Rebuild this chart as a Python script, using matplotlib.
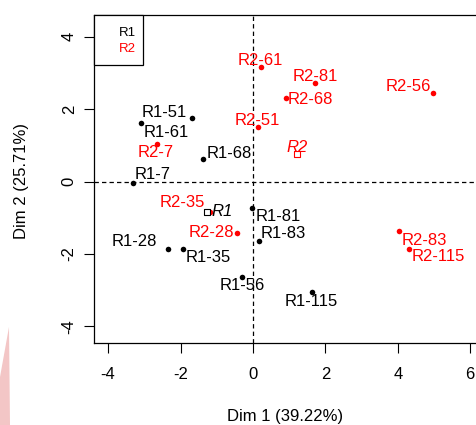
import matplotlib
matplotlib.use("Agg")
import matplotlib.pyplot as plt
from matplotlib.patches import Rectangle, Polygon

plt.rcParams['font.family'] = ['Liberation Sans', 'DejaVu Sans']

# R1 individuals (black)
r1_names = ["R1-51", "R1-61", "R1-68", "R1-7", "R1-28", "R1-35", "R1-56", "R1-81", "R1-83", "R1-115"]
r1_x = [-1.69, -3.10, -1.37, -3.32, -2.34, -1.93, -0.30, -0.02, 0.17, 1.62]
r1_y = [1.75, 1.61, 0.62, -0.03, -1.87, -1.85, -2.63, -0.72, -1.63, -3.06]
# R2 individuals (red)
r2_names = ["R2-61", "R2-51", "R2-7", "R2-81", "R2-68", "R2-56", "R2-35", "R2-28", "R2-83", "R2-115"]
r2_x = [0.21, 0.13, -2.66, 1.71, 0.91, 4.98, -1.19, -0.45, 4.04, 4.32]
r2_y = [3.15, 1.50, 1.05, 2.71, 2.30, 2.44, -0.83, -1.41, -1.37, -1.86]
# supplementary (group centres)
sup_names = ["R1", "R2"]
sup_x = [-1.28, 1.21]
sup_y = [-0.83, 0.76]
sup_colors = ["black", "red"]

x_ticks = [-4, -2, 0, 2, 4, 6]
y_ticks = [-4, -2, 0, 2, 4]
xlabel = "Dim 1 (39.22%)"
ylabel = "Dim 2 (25.71%)"

# label placement (pixel offsets, alignment)
r1_lab = [(-5, 6, 'right'), (3, -9, 'left'), (3, 6, 'left'), (2, 8, 'left'), (-11, 8, 'right'),
          (3, -9, 'left'), (0, -9, 'center'), (3, -9, 'left'), (2, 7, 'left'), (0, -9, 'center')]
r2_lab = [(0, 7, 'center'), (0, 7, 'center'), (-1, -9, 'center'), (0, 7, 'center'), (2, -1, 'left'),
          (-2, 7, 'right'), (-5, 9, 'right'), (-3, 0, 'right'), (2, -9, 'left'), (2, -8, 'left')]
sup_lab = [(5, 0, 'left'), (0, 7, 'center')]

W, H = 477, 425
fig = plt.figure(figsize=(W / 100, H / 100), dpi=100)

# faint pink wedge in the lower-left corner
fig.patches.append(Polygon([(9 / W, 1 - 327 / H), (10 / W, 0), (0, 0), (0, 1 - 377 / H)],
                           closed=True, transform=fig.transFigure, facecolor='#f3c6c6',
                           edgecolor='none', zorder=0))

ax_l, ax_r, ax_t, ax_b = 94, 484.7, 15, 343
ax = fig.add_axes([ax_l / W, 1 - ax_b / H, (ax_r - ax_l) / W, (ax_b - ax_t) / H])
ax.patch.set_alpha(0)
ax.set_xlim(-4.39, 6.40)
ax.set_ylim(-4.46, 4.60)

ax.axhline(0, color='black', lw=0.9, ls=(0, (3.5, 2.5)), zorder=1)
ax.axvline(0, color='black', lw=0.9, ls=(0, (3.5, 2.5)), zorder=1)

fs = 12
ax.scatter(r1_x, r1_y, s=16, color='black', zorder=3, linewidths=0)
ax.scatter(r2_x, r2_y, s=16, color='red', zorder=3, linewidths=0)
for n, x, y, (dx, dy, ha) in zip(r1_names, r1_x, r1_y, r1_lab):
    ax.annotate(n, (x, y), xytext=(dx, dy), textcoords='offset pixels', ha=ha, va='center',
                fontsize=fs, color='black', zorder=4)
for n, x, y, (dx, dy, ha) in zip(r2_names, r2_x, r2_y, r2_lab):
    ax.annotate(n, (x, y), xytext=(dx, dy), textcoords='offset pixels', ha=ha, va='center',
                fontsize=fs, color='red', zorder=4)
for n, x, y, c, (dx, dy, ha) in zip(sup_names, sup_x, sup_y, sup_colors, sup_lab):
    ax.scatter([x], [y], marker='s', s=16, facecolor='white', edgecolor=c, linewidths=0.8, zorder=3)
    ax.annotate(n, (x, y), xytext=(dx, dy), textcoords='offset pixels', ha=ha, va='center',
                fontsize=fs, color=c, style='italic', zorder=4)

ax.set_xticks(x_ticks)
ax.set_yticks(y_ticks)
ax.set_xticklabels([str(t) for t in x_ticks])
ax.set_yticklabels([str(t) for t in y_ticks], rotation=90, va='center')
ax.tick_params(axis='both', direction='out', length=7.5, width=0.8, labelsize=fs)
ax.tick_params(axis='x', pad=10)
ax.tick_params(axis='y', pad=5)
for sp in ax.spines.values():
    sp.set_linewidth(0.9)

fig.text(0.5 * (94 + 477) / W + 0.0, 1 - 416.7 / H, xlabel, ha='center', va='center', fontsize=fs)
fig.text(22 / W, 1 - 181.5 / H, ylabel, ha='center', va='center', fontsize=fs, rotation=90)

# legend box
bw = 49 / (ax_r - ax_l)
bh = 50 / (ax_b - ax_t)
ax.add_patch(Rectangle((0, 1 - bh), bw, bh, transform=ax.transAxes, facecolor='white',
                       edgecolor='black', linewidth=0.9, zorder=5, clip_on=False))
for i, (n, c) in enumerate(zip(sup_names, sup_colors)):
    yy = 1 - (17.7 + 16.3 * i) / (ax_b - ax_t)
    ax.text(25 / (ax_r - ax_l), yy, n, transform=ax.transAxes, color=c, fontsize=9.5,
            ha='left', va='center', zorder=6)

fig.savefig("out.png", dpi=100)
